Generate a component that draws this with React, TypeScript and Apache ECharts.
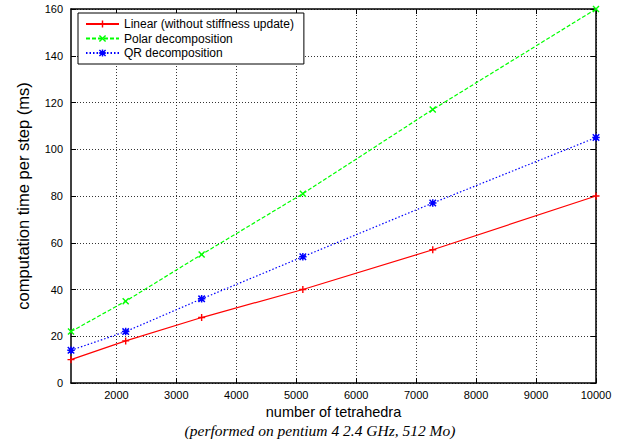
import React, { useEffect, useRef } from "react";
import * as echarts from "echarts";

const tetrahedra = [1243, 2155, 3422, 5110, 7277, 10000];
const linearTimes = [10, 18, 28, 40, 57, 80];
const polarTimes = [22, 35, 55, 81, 117, 160];
const qrTimes = [14, 22, 36, 54, 77, 105];
const xTickValues = [2000, 3000, 4000, 5000, 6000, 7000, 8000, 9000, 10000];
const seriesNames = ["Linear (without stiffness update)", "Polar decomposition", "QR decomposition"];
const xTitle = "number of tetrahedra";
const yTitle = "computation time per step (ms)";
const footnote = "(performed on pentium 4 2.4 GHz, 512 Mo)";

const PLUS = "path://M4,0H6V4H10V6H6V10H4V6H0V4H4Z";
const CROSS = "path://M0,1.4L1.4,0L5,3.6L8.6,0L10,1.4L6.4,5L10,8.6L8.6,10L5,6.4L1.4,10L0,8.6L3.6,5Z";
const STAR = "path://M4,0H6V4H10V6H6V10H4V6H0V4H4Z M0,1.4L1.4,0L5,3.6L8.6,0L10,1.4L6.4,5L10,8.6L8.6,10L5,6.4L1.4,10L0,8.6L3.6,5Z";

const FONT = "Liberation Sans, Arial, sans-serif";

export default function App() {
  const ref = useRef<HTMLDivElement>(null);
  useEffect(() => {
    if (!ref.current) return;
    const chart = echarts.init(ref.current, null, { renderer: "svg" });
    const pairs = (ys: number[]) => tetrahedra.map((x, i) => [x, ys[i]]);
    const xMin = tetrahedra[0];
    const xMax = tetrahedra[tetrahedra.length - 1];
    const tickCommon = {
      show: true,
      inside: true,
      length: 5,
      lineStyle: { color: "#000", width: 1 },
    };
    chart.setOption({
      animation: false,
      backgroundColor: "#fff",
      grid: { left: 71, right: 32, top: 9, bottom: 64, containLabel: false },
      legend: {
        show: true,
        orient: "vertical",
        left: 78,
        top: 13,
        data: seriesNames,
        itemWidth: 33,
        itemHeight: 9,
        itemGap: 0.5,
        padding: [4, 10, 4, 7],
        borderColor: "#000",
        borderWidth: 1,
        backgroundColor: "#fff",
        textStyle: { fontFamily: FONT, fontSize: 12, lineHeight: 14, color: "#000" },
      },
      xAxis: [
        {
          type: "value",
          min: xMin,
          max: xMax,
          position: "bottom",
          name: xTitle,
          nameLocation: "middle",
          nameGap: 15,
          nameTextStyle: { fontFamily: FONT, fontSize: 14.5, lineHeight: 14, color: "#000" },
          axisLine: { show: true, onZero: false, lineStyle: { color: "#000", width: 1.5 } },
          axisTick: { ...tickCommon, customValues: xTickValues },
          axisLabel: {
            customValues: xTickValues,
            formatter: (v: number) => String(v),
            fontFamily: FONT,
            fontSize: 11,
            color: "#000",
            margin: 6,
          },
          splitLine: { show: true, lineStyle: { color: "#000", width: 0.8, type: [1, 2] } },
        },
        {
          type: "value",
          min: xMin,
          max: xMax,
          position: "top",
          axisLine: { show: true, onZero: false, lineStyle: { color: "#000", width: 1.5 } },
          axisTick: { ...tickCommon, customValues: xTickValues },
          axisLabel: { show: false },
          splitLine: { show: false },
        },
      ],
      yAxis: [
        {
          type: "value",
          min: 0,
          max: 160,
          interval: 20,
          position: "left",
          name: yTitle,
          nameLocation: "middle",
          nameGap: 40,
          nameTextStyle: { fontFamily: FONT, fontSize: 16.5, color: "#000" },
          axisLine: { show: true, onZero: false, lineStyle: { color: "#000", width: 1.5 } },
          axisTick: tickCommon,
          axisLabel: { fontFamily: FONT, fontSize: 11, color: "#000", margin: 8 },
          splitLine: { show: true, lineStyle: { color: "#000", width: 0.8, type: [1, 2] } },
        },
        {
          type: "value",
          min: 0,
          max: 160,
          interval: 20,
          position: "right",
          axisLine: { show: true, onZero: false, lineStyle: { color: "#000", width: 1.5 } },
          axisTick: tickCommon,
          axisLabel: { show: false },
          splitLine: { show: false },
        },
      ],
      series: [
        {
          name: seriesNames[0],
          type: "line",
          data: pairs(linearTimes),
          symbol: PLUS,
          symbolSize: 7,
          showAllSymbol: true,
          clip: false,
          lineStyle: { color: "#ff0000", width: 1.2, type: "solid" },
          itemStyle: { color: "#ff0000" },
        },
        {
          name: seriesNames[1],
          type: "line",
          data: pairs(polarTimes),
          symbol: CROSS,
          symbolSize: 7,
          showAllSymbol: true,
          clip: false,
          lineStyle: { color: "#00ff00", width: 1.2, type: [4, 2] },
          itemStyle: { color: "#00ff00" },
        },
        {
          name: seriesNames[2],
          type: "line",
          data: pairs(qrTimes),
          symbol: STAR,
          symbolSize: 7.5,
          showAllSymbol: true,
          clip: false,
          lineStyle: { color: "#0000ff", width: 1.2, type: [1.5, 2] },
          itemStyle: { color: "#0000ff" },
        },
      ],
      graphic: [
        {
          type: "text",
          x: 320,
          y: 430,
          style: {
            text: footnote,
            fontFamily: "Liberation Serif, Times New Roman, serif",
            fontStyle: "italic",
            fontSize: 15.5,
            lineHeight: 15,
            textAlign: "center",
            textVerticalAlign: "middle",
            fill: "#000",
          },
        },
      ],
    });
    return () => chart.dispose();
  }, []);
  return (
    <div
      ref={ref}
      style={{ position: "fixed", left: 0, top: 0, width: 628, height: 447, background: "#fff" }}
    />
  );
}
